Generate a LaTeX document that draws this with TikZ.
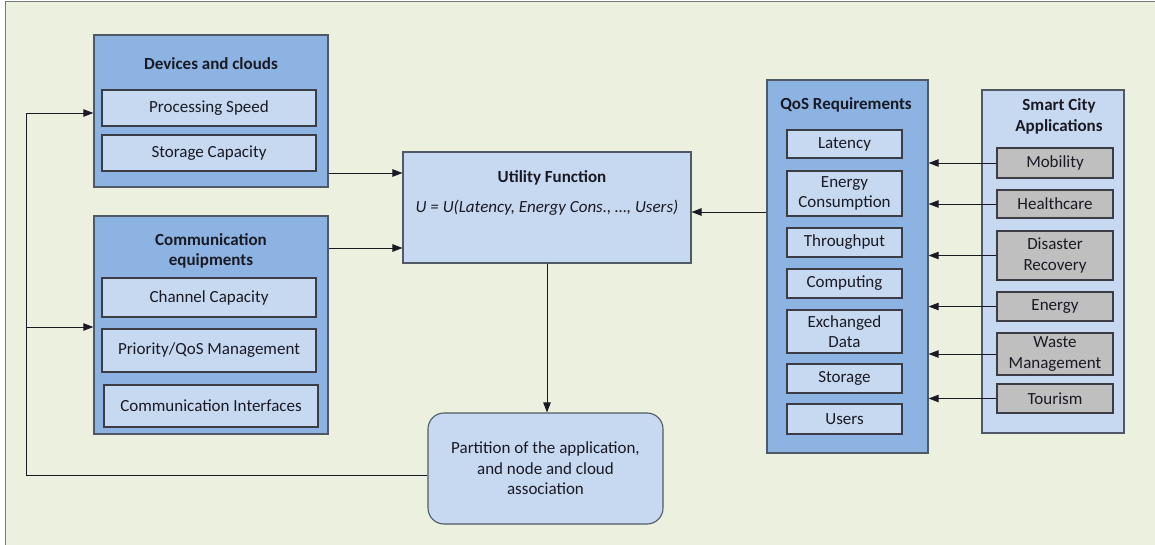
\documentclass[tikz,border=0pt]{standalone}
\usepackage{fontspec}
\setmainfont{Carlito}
\usetikzlibrary{arrows.meta,positioning}
\definecolor{bgcol}{HTML}{EBF1DE}
\definecolor{darkblue}{HTML}{8DB3E2}
\definecolor{lightblue}{HTML}{C6D9F1}
\definecolor{greybox}{HTML}{BFBFBF}
\definecolor{outline}{HTML}{4F5A66}
\definecolor{txt}{HTML}{1A1A24}
\tikzset{
  base/.style={font=\fontsize{17}{20.5}\selectfont, text=txt, align=center, inner sep=0pt},
  outerbox/.style={base, draw=outline, line width=1.3pt, fill=darkblue},
  itembox/.style={base, draw=txt!85, line width=1.1pt, fill=lightblue},
  appbox/.style={base, draw=outline, line width=1.1pt, fill=lightblue},
  graybox/.style={base, draw=txt!85, line width=1.1pt, fill=greybox},
  utilbox/.style={base, draw=outline, line width=1.1pt, fill=lightblue},
  partbox/.style={base, draw=outline, line width=1.1pt, fill=lightblue, rounded corners=16pt},
  titletext/.style={base, font=\fontsize{17}{20.5}\selectfont\bfseries},
  conn/.style={draw=txt, line width=0.9pt},
  arr/.style={conn, -{Triangle[length=10pt,width=7.5pt]}},
}
% box from its corners in pixel units: (x1,y1) to (x2,y2)
\newcommand{\pixbox}[6]{%
  \node[#1, minimum width={(#5-#3)*1pt}, minimum height={(#6-#4)*1pt}] (#2) at ({(#3+#5)/2},{(#4+#6)/2}) {};}
\begin{document}
\begin{tikzpicture}[x=1pt,y=-1pt]
\useasboundingbox (0,0) rectangle (1155,545);
% canvas
\fill[bgcol] (5,2) rectangle (1155,545);
\draw[outline!80, line width=1pt] (5,545) -- (5,2) -- (1155,2);

% ---------- devices and clouds ----------
\pixbox{outerbox}{dev}{94}{35}{328}{187}
\node[titletext] (devtitle) at (211,64) {Devices and clouds};
\pixbox{itembox}{speed}{102}{90}{316}{126}
\node[base] at (speed) {Processing Speed};
\pixbox{itembox}{storcap}{102}{135}{316}{171}
\node[base] at (storcap) {Storage Capacity};

% ---------- communication equipments ----------
\pixbox{outerbox}{comm}{94}{216}{328}{434}
\node[titletext] (commtitle) at (211,251) {Communication\\equipments};
\pixbox{itembox}{chan}{102}{278}{316}{317}
\node[base] at (chan) {Channel Capacity};
\pixbox{itembox}{prio}{102}{329}{316}{372}
\node[base] at (prio) {Priority/QoS Management};
\pixbox{itembox}{iface}{104}{385}{318}{427}
\node[base] at (iface) {Communication Interfaces};

% ---------- utility function ----------
\pixbox{utilbox}{util}{403}{152}{691}{263}
\node[titletext] (utiltitle) at (552,178) {Utility Function};
\node[base] (formula) at (547,208) {\itshape U = U(Latency, Energy Cons., …, Users)};

% ---------- partition ----------
\pixbox{partbox}{part}{428}{413}{663}{524}
\node[base] (parttext) at (545.5,468.5) {Partition of the application,\\and node and cloud\\association};

% ---------- QoS requirements ----------
\pixbox{outerbox}{qos}{767}{80}{928}{453}
\node[titletext] (qostitle) at (846,105) {QoS Requirements};
\pixbox{itembox}{lat}{787}{130}{902}{158}
\node[base] at (lat) {Latency};
\pixbox{itembox}{econs}{787}{171}{902}{216}
\node[base] at (econs) {Energy\\Consumption};
\pixbox{itembox}{thr}{787}{228}{902}{257}
\node[base] at (thr) {Throughput};
\pixbox{itembox}{comp}{787}{269}{902}{298}
\node[base] at (comp) {Computing};
\pixbox{itembox}{exch}{787}{310}{902}{353}
\node[base] at (exch) {Exchanged\\Data};
\pixbox{itembox}{stor}{787}{364}{902}{393}
\node[base] at (stor) {Storage};
\pixbox{itembox}{users}{787}{404}{902}{434}
\node[base] at (users) {Users};

% ---------- smart city applications ----------
\pixbox{appbox}{apps}{982}{90}{1124}{433}
\node[titletext] (appstitle) at (1059,116.5) {Smart City\\Applications};
\pixbox{graybox}{mob}{997}{148}{1113}{178}
\node[base] at (mob) {Mobility};
\pixbox{graybox}{health}{997}{190}{1113}{218}
\node[base] at (health) {Healthcare};
\pixbox{graybox}{disaster}{997}{231}{1113}{280}
\node[base] at (disaster) {Disaster\\Recovery};
\pixbox{graybox}{energy}{997}{292}{1113}{321}
\node[base] at (energy) {Energy};
\pixbox{graybox}{waste}{997}{333}{1113}{375}
\node[base] at (waste) {Waste\\Management};
\pixbox{graybox}{tour}{997}{384}{1113}{413}
\node[base] at (tour) {Tourism};

% ---------- connectors ----------
\foreach \app in {mob,health,disaster,energy,waste,tour}
  \draw[arr] (\app.west) -- (\app.west -| qos.east);

\draw[arr] (qos.west |- 0,212) -- (util.east |- 0,212);
\draw[arr] (dev.east |- 0,173) -- (util.west |- 0,173);
\draw[arr] (comm.east |- 0,248) -- (util.west |- 0,248);
\draw[arr] (util.south) -- (util.south |- part.north);

% feedback loop
\coordinate (fbcorner) at (26,475);
\coordinate (fbbranch) at (26,327);
\draw[conn] (part.west |- fbcorner) -- (fbcorner) -- (26,113);
\draw[arr] (26,113) -- (dev.west |- 0,113);
\draw[arr] (fbbranch) -- (comm.west |- fbbranch);
\end{tikzpicture}
\end{document}
